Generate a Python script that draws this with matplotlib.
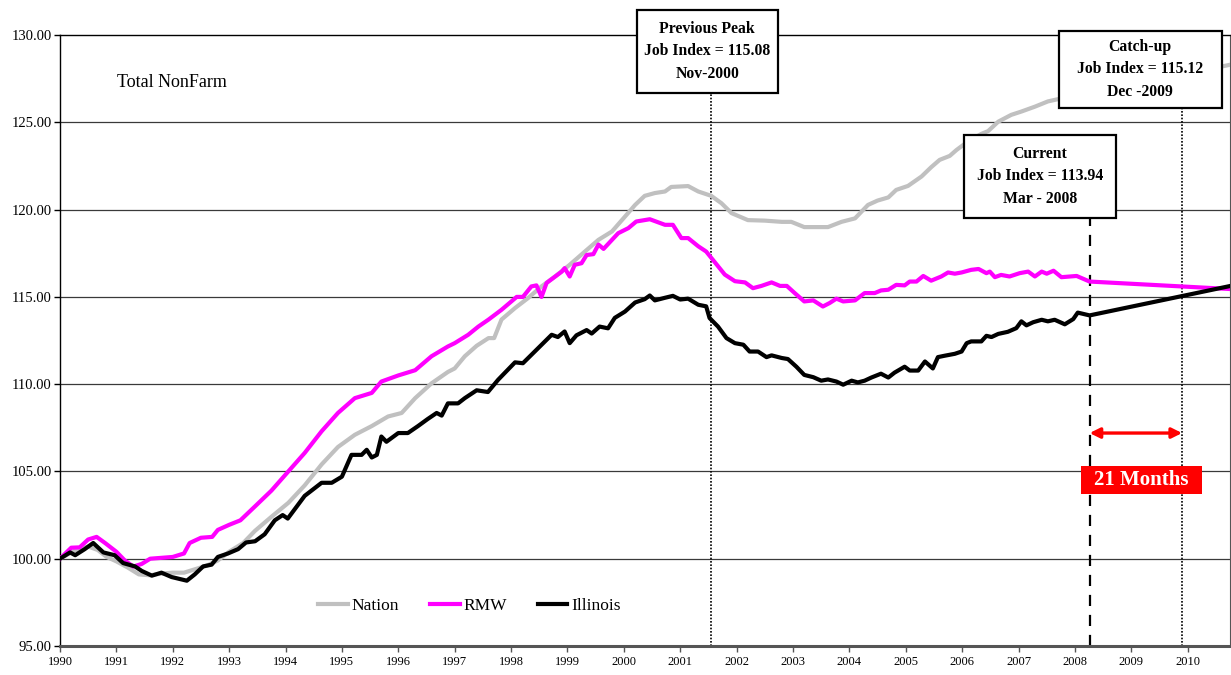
import matplotlib
matplotlib.use('Agg')
import matplotlib.pyplot as plt
from matplotlib.patches import Rectangle

plt.rcParams['font.family'] = ['Liberation Serif', 'DejaVu Serif']

# time in decimal years, values are job index (Jan 1990 = 100)
nation_t = [1990.0, 1990.25, 1990.5, 1990.67, 1990.83, 1991.0, 1991.2, 1991.4, 1991.6, 1991.8,
            1992.0, 1992.2, 1992.4, 1992.6, 1992.8, 1993.0, 1993.25, 1993.46, 1993.75, 1994.05,
            1994.34, 1994.64, 1994.93, 1995.23, 1995.53, 1995.82, 1996.06, 1996.3, 1996.59, 1996.88,
            1997.0, 1997.18, 1997.39, 1997.6, 1997.7, 1997.83, 1998.07, 1998.3, 1998.54, 1998.78,
            1999.04, 1999.31, 1999.55, 1999.79, 2000.02, 2000.2, 2000.37, 2000.55, 2000.73, 2000.84,
            2001.14, 2001.32, 2001.55, 2001.73, 2001.91, 2002.2, 2002.5, 2002.8, 2002.97, 2003.2,
            2003.62, 2003.86, 2004.1, 2004.33, 2004.5, 2004.69, 2004.83, 2005.04, 2005.28, 2005.45,
            2005.6, 2005.78, 2005.9, 2006.1, 2006.34, 2006.46, 2006.64, 2006.87, 2007.05, 2007.29,
            2007.52, 2007.7, 2008.25, 2009.0, 2010.0, 2010.6, 2010.75]
nation_v = [100.0, 100.45, 100.7, 100.5, 100.1, 99.85, 99.5, 99.1, 99.05, 99.15,
            99.2, 99.2, 99.4, 99.6, 99.9, 100.4, 100.9, 101.6, 102.4, 103.2,
            104.2, 105.4, 106.4, 107.1, 107.6, 108.15, 108.35, 109.2, 110.05, 110.7,
            110.9, 111.6, 112.2, 112.64, 112.64, 113.7, 114.36, 114.93, 115.6, 116.17,
            116.84, 117.6, 118.27, 118.75, 119.6, 120.27, 120.79, 120.95, 121.04, 121.3,
            121.35, 121.04, 120.79, 120.37, 119.8, 119.4, 119.37, 119.3, 119.3, 119.0,
            119.0, 119.3, 119.5, 120.27, 120.52, 120.7, 121.13, 121.36, 121.9, 122.43,
            122.85, 123.08, 123.42, 123.9, 124.34, 124.5, 125.04, 125.43, 125.62, 125.9,
            126.2, 126.33, 126.6, 127.2, 127.8, 128.2, 128.3]

rmw_t = [1990.0, 1990.2, 1990.35, 1990.5, 1990.65, 1990.8, 1991.0, 1991.15, 1991.3, 1991.45,
         1991.6, 1992.0, 1992.2, 1992.3, 1992.5, 1992.7, 1992.8, 1993.0, 1993.2, 1993.46,
         1993.75, 1994.05, 1994.34, 1994.64, 1994.93, 1995.23, 1995.53, 1995.7, 1996.0, 1996.3,
         1996.59, 1996.88, 1997.0, 1997.24, 1997.42, 1997.6, 1997.83, 1998.1, 1998.21, 1998.36,
         1998.45, 1998.54, 1998.63, 1998.9, 1998.95, 1999.04, 1999.13, 1999.25, 1999.34, 1999.46,
         1999.55, 1999.64, 1999.9, 2000.08, 2000.22, 2000.46, 2000.73, 2000.87, 2001.02, 2001.14,
         2001.32, 2001.46, 2001.55, 2001.79, 2001.97, 2002.15, 2002.29, 2002.44, 2002.62, 2002.77,
         2002.89, 2003.03, 2003.2, 2003.36, 2003.53, 2003.65, 2003.77, 2003.89, 2004.1, 2004.27,
         2004.45, 2004.56, 2004.69, 2004.83, 2004.98, 2005.07, 2005.19, 2005.31, 2005.45, 2005.63,
         2005.75, 2005.87, 2005.99, 2006.16, 2006.29, 2006.43, 2006.49, 2006.58, 2006.69, 2006.84,
         2007.02, 2007.17, 2007.29, 2007.41, 2007.5, 2007.62, 2007.76, 2008.03, 2008.26, 2010.76]
rmw_v = [100.0, 100.63, 100.65, 101.1, 101.25, 100.9, 100.4, 99.9, 99.55, 99.7,
         100.0, 100.1, 100.3, 100.9, 101.2, 101.25, 101.65, 101.94, 102.2, 103.0,
         103.9, 105.0, 106.06, 107.3, 108.35, 109.2, 109.5, 110.15, 110.5, 110.8,
         111.6, 112.16, 112.35, 112.83, 113.3, 113.7, 114.26, 115.0, 115.0, 115.6,
         115.66, 115.0, 115.8, 116.45, 116.65, 116.17, 116.84, 116.93, 117.4, 117.45,
         118.0, 117.75, 118.65, 118.94, 119.32, 119.45, 119.13, 119.13, 118.37, 118.37,
         117.9, 117.6, 117.24, 116.28, 115.9, 115.83, 115.5, 115.63, 115.83, 115.63,
         115.63, 115.22, 114.74, 114.8, 114.45, 114.65, 114.9, 114.74, 114.8, 115.22,
         115.22, 115.37, 115.41, 115.69, 115.66, 115.88, 115.88, 116.2, 115.93, 116.17,
         116.4, 116.33, 116.4, 116.55, 116.6, 116.36, 116.45, 116.13, 116.26, 116.17,
         116.36, 116.45, 116.17, 116.45, 116.33, 116.5, 116.13, 116.2, 115.88, 115.45]

il_t = [1990.0, 1990.18, 1990.27, 1990.44, 1990.59, 1990.77, 1990.97, 1991.12, 1991.33, 1991.45,
        1991.63, 1991.8, 1991.98, 1992.25, 1992.39, 1992.54, 1992.69, 1992.8, 1992.98, 1993.16,
        1993.3, 1993.46, 1993.63, 1993.81, 1993.95, 1994.04, 1994.34, 1994.64, 1994.82, 1995.0,
        1995.17, 1995.35, 1995.44, 1995.53, 1995.62, 1995.7, 1995.79, 1996.0, 1996.17, 1996.35,
        1996.52, 1996.68, 1996.77, 1996.88, 1997.06, 1997.18, 1997.39, 1997.59, 1997.77, 1998.07,
        1998.21, 1998.42, 1998.57, 1998.72, 1998.83, 1998.95, 1999.04, 1999.16, 1999.34, 1999.43,
        1999.57, 1999.72, 1999.84, 2000.02, 2000.2, 2000.37, 2000.46, 2000.55, 2000.73, 2000.87,
        2001.0, 2001.14, 2001.32, 2001.46, 2001.52, 2001.67, 2001.82, 2001.97, 2002.12, 2002.23,
        2002.38, 2002.53, 2002.62, 2002.8, 2002.91, 2003.06, 2003.2, 2003.36, 2003.5, 2003.62,
        2003.77, 2003.89, 2004.04, 2004.15, 2004.27, 2004.39, 2004.56, 2004.69, 2004.8, 2004.98,
        2005.07, 2005.22, 2005.34, 2005.48, 2005.57, 2005.69, 2005.87, 2005.99, 2006.08, 2006.16,
        2006.34, 2006.43, 2006.52, 2006.64, 2006.81, 2006.96, 2007.05, 2007.14, 2007.26, 2007.41,
        2007.52, 2007.64, 2007.82, 2007.97, 2008.05, 2008.26, 2010.76]
il_v = [100.0, 100.36, 100.2, 100.55, 100.9, 100.36, 100.2, 99.75, 99.56, 99.3,
        99.03, 99.2, 98.95, 98.74, 99.1, 99.56, 99.66, 100.1, 100.3, 100.55,
        100.93, 101.0, 101.4, 102.2, 102.5, 102.3, 103.6, 104.35, 104.35, 104.7,
        105.95, 105.95, 106.24, 105.8, 105.95, 107.0, 106.7, 107.2, 107.2, 107.6,
        108.0, 108.35, 108.2, 108.9, 108.9, 109.2, 109.65, 109.55, 110.25, 111.25,
        111.2, 111.87, 112.35, 112.83, 112.7, 113.02, 112.35, 112.8, 113.1, 112.9,
        113.3, 113.2, 113.8, 114.16, 114.68, 114.87, 115.08, 114.8, 114.95, 115.06,
        114.85, 114.9, 114.55, 114.46, 113.79, 113.3, 112.64, 112.35, 112.26, 111.87,
        111.87, 111.55, 111.65, 111.5, 111.44, 111.0, 110.53, 110.4, 110.2, 110.27,
        110.15, 109.97, 110.2, 110.1, 110.2, 110.38, 110.6, 110.38, 110.66, 111.0,
        110.78, 110.78, 111.3, 110.9, 111.55, 111.63, 111.74, 111.87, 112.35, 112.45,
        112.45, 112.77, 112.7, 112.88, 113.0, 113.21, 113.6, 113.37, 113.55, 113.69,
        113.6, 113.69, 113.43, 113.73, 114.1, 113.94, 115.63]

years = list(range(1990, 2011))
y_ticks = [95, 100, 105, 110, 115, 120, 125, 130]

# annotation dates
prev_peak_t = 2001.55
current_t = 2008.26
catchup_t = 2009.9


def label_box(ax, x0, x1, y0, y1, text):
    # white framed box with bold three-line text, may stick out of the axes
    ax.add_patch(Rectangle((x0, y0), x1 - x0, y1 - y0, fc='white', ec='black', lw=1.6,
                           zorder=10, clip_on=False))
    ax.text((x0 + x1) / 2, (y0 + y1) / 2, text, ha='center', va='center', fontsize=11.3,
            fontweight='bold', linespacing=1.55, zorder=11, clip_on=False)


fig = plt.figure(figsize=(12.31, 6.75), dpi=100)
ax = fig.add_axes([0.0487, 0.043, 0.9505, 0.905])

# horizontal grid
for y in y_ticks[1:-1]:
    ax.axhline(y, color='#3a3a3a', lw=0.9, zorder=1)

ax.plot(nation_t, nation_v, color='#c0c0c0', lw=3.0, label='Nation', zorder=3)
ax.plot(rmw_t, rmw_v, color='#ff00ff', lw=3.0, label='RMW', zorder=4)
ax.plot(il_t, il_v, color='black', lw=3.0, label='Illinois', zorder=5)

# vertical marker lines, from the axis up to their boxes
ax.vlines(prev_peak_t, 95, 126.7, color='black', lw=1.2, linestyles=[(0, (1, 1))], zorder=2)
ax.vlines(catchup_t, 95, 125.8, color='black', lw=1.2, linestyles=[(0, (1, 1))], zorder=2)
ax.vlines(current_t, 95, 119.5, color='black', lw=1.6, linestyles=[(0, (5, 4))], zorder=2)

label_box(ax, 2000.23, 2002.73, 126.69, 131.44, 'Previous Peak\nJob Index = 115.08\nNov-2000')
label_box(ax, 2007.71, 2010.60, 125.83, 130.24, 'Catch-up\nJob Index = 115.12\nDec -2009')
label_box(ax, 2006.03, 2008.72, 119.53, 124.28, 'Current\nJob Index = 113.94\nMar - 2008')

# 21 month gap
ax.annotate('', xy=(current_t, 107.2), xytext=(catchup_t, 107.2),
            arrowprops=dict(arrowstyle='<|-|>', color='red', lw=2.4, mutation_scale=15,
                            shrinkA=0, shrinkB=0), zorder=6)
ax.add_patch(Rectangle((2008.10, 103.72), 2.15, 1.61, fc='red', ec='none', zorder=7))
ax.text(2009.17, 104.5, '21 Months', ha='center', va='center', color='white', fontsize=15,
        fontweight='bold', zorder=8)

ax.text(1991.01, 127.26, 'Total NonFarm', ha='left', va='center', fontsize=13)

ax.set_xlim(1990, 2010.75)
ax.set_ylim(95, 130)
ax.set_xticks(years)
ax.set_xticklabels([str(y) for y in years], fontsize=9)
ax.set_yticks(y_ticks)
ax.set_yticklabels(['%.2f' % y for y in y_ticks], fontsize=10.5)
ax.tick_params(axis='y', length=4, width=1, pad=2)
ax.tick_params(axis='x', length=4, width=1, pad=3, color='#555555')

ax.spines['left'].set_linewidth(1.0)
ax.spines['top'].set_linewidth(1.0)
ax.spines['right'].set_linewidth(0.8)
ax.spines['right'].set_color('#555555')
ax.spines['bottom'].set_linewidth(2.2)
ax.spines['bottom'].set_color('#555555')

ax.legend(loc='center', bbox_to_anchor=(0.35, 0.065), ncol=3, frameon=False, fontsize=12.5,
          handlelength=1.7, handletextpad=0.2, columnspacing=1.8)

fig.savefig('out.png', dpi=100)
